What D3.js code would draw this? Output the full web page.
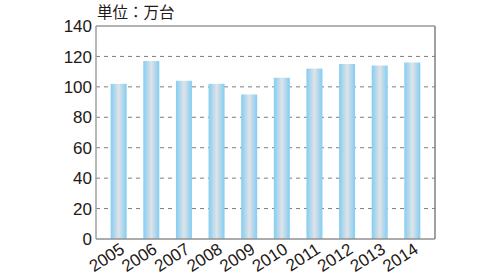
<!DOCTYPE html>
<html>
<head>
<meta charset="utf-8">
<script src="https://cdn.jsdelivr.net/npm/d3@7"></script>
<style>
    body { margin: 0; background: #fff; }
    svg { display: block; }
    text { font-family: "Liberation Sans", Arial, sans-serif; fill: #231815; }
</style>
</head>
<body>
<script>

// Data.
const years = ['2005', '2006', '2007', '2008', '2009', '2010', '2011', '2012', '2013', '2014'];
const units = [102, 117, 104, 102, 95, 106, 112, 115, 114, 116];
const yTicks = [0, 20, 40, 60, 80, 100, 120, 140];
const unitLabel = '単位：万台';

const width = 500;
const height = 280;
const plot = { left: 96, right: 435, top: 26, bottom: 239 };

const svg = d3.select('body').append('svg').attr('width', width).attr('height', height);

// Horizontal gradient for the bars: blue edges, grey centre.
const grad = svg.append('defs').append('linearGradient').attr('id', 'barGrad')
    .attr('x1', '0%').attr('x2', '100%').attr('y1', '0%').attr('y2', '0%');
grad.append('stop').attr('offset', '0%').attr('stop-color', '#82cdf3');
grad.append('stop').attr('offset', '50%').attr('stop-color', '#e0e3e7');
grad.append('stop').attr('offset', '100%').attr('stop-color', '#82cdf3');

const x = d3.scaleBand().domain(years).range([plot.left, plot.right]).paddingInner(0.51).paddingOuter(0.45);
const y = d3.scaleLinear().domain([0, 140]).range([plot.bottom, plot.top]);

// Dashed grid lines.
svg.append('g').selectAll('line').data(yTicks.filter(t => t > 0 && t < 140)).join('line')
    .attr('x1', plot.left).attr('x2', plot.right)
    .attr('y1', d => y(d)).attr('y2', d => y(d))
    .attr('stroke', '#7d7d7d').attr('stroke-width', 1).attr('stroke-dasharray', '4,4');

// Bars.
svg.append('g').selectAll('rect').data(units).join('rect')
    .attr('x', (d, i) => x(years[i]))
    .attr('y', d => y(d))
    .attr('width', x.bandwidth())
    .attr('height', d => y(0) - y(d))
    .attr('fill', 'url(#barGrad)');

// Frame.
const frame = svg.append('g').attr('fill', 'none');
frame.append('line').attr('x1', plot.left).attr('x2', plot.right).attr('y1', plot.top).attr('y2', plot.top)
    .attr('stroke', '#b4b4b4').attr('stroke-width', 2);
frame.append('line').attr('x1', plot.left).attr('x2', plot.left).attr('y1', plot.top).attr('y2', plot.bottom)
    .attr('stroke', '#a0a0a0').attr('stroke-width', 1.5);
frame.append('line').attr('x1', plot.right).attr('x2', plot.right).attr('y1', plot.top).attr('y2', plot.bottom)
    .attr('stroke', '#808080').attr('stroke-width', 1.5);
frame.append('line').attr('x1', plot.left).attr('x2', plot.right).attr('y1', plot.bottom).attr('y2', plot.bottom)
    .attr('stroke', '#909090').attr('stroke-width', 1.5);

// Y axis labels.
svg.append('g').selectAll('text').data(yTicks).join('text')
    .attr('x', plot.left - 4)
    .attr('y', d => y(d))
    .attr('dy', '0.36em')
    .attr('text-anchor', 'end')
    .style('font-size', '17px')
    .text(d => d);

// X axis labels, rotated.
svg.append('g').selectAll('text').data(years).join('text')
    .attr('text-anchor', 'end')
    .attr('transform', d => `translate(${x(d) + x.bandwidth() / 2 + 7},${plot.bottom + 13}) rotate(-33)`)
    .style('font-size', '17px')
    .text(d => d);

// Unit label.
svg.append('text')
    .attr('x', 97).attr('y', 18)
    .style('font-family', '"Noto Sans CJK JP", sans-serif')
    .style('font-size', '15.5px')
    .text(unitLabel);

</script>
</body>
</html>
